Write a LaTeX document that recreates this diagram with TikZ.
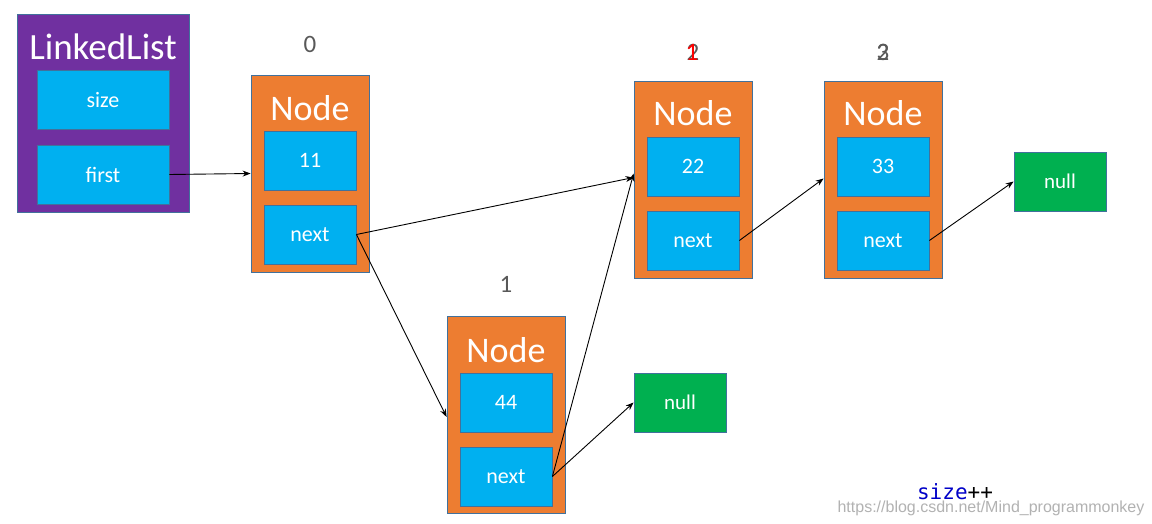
\documentclass[tikz,border=0pt]{standalone}
\usepackage{fontspec}
\setmainfont{Carlito}
\newfontfamily\monof{DejaVu Sans Mono}
\newfontfamily\urlf{Liberation Sans}
\usetikzlibrary{arrows.meta}
\definecolor{bord}{HTML}{41719C}
\definecolor{oran}{HTML}{ED7D31}
\definecolor{cyanb}{HTML}{00B0F0}
\definecolor{purp}{HTML}{7030A0}
\definecolor{grn}{HTML}{00B050}
\definecolor{lbl}{HTML}{595959}
\definecolor{szb}{HTML}{0000C8}
\tikzset{
  outerbox/.style={draw=bord, line width=0.8pt, fill=oran, minimum width=118pt, minimum height=197pt, inner sep=0pt},
  listbox/.style={draw=bord, line width=0.8pt, fill=purp, minimum width=172pt, minimum height=198pt, inner sep=0pt},
  fieldbox/.style={draw=bord, line width=0.8pt, fill=cyanb, minimum width=92pt, minimum height=59pt, inner sep=0pt, text=white, font=\fontsize{22}{26}\selectfont},
  bigfield/.style={fieldbox, minimum width=132pt},
  nullbox/.style={draw=bord, line width=0.8pt, fill=grn, minimum width=92pt, minimum height=59pt, inner sep=0pt, text=white, font=\fontsize{21}{25}\selectfont},
  titletext/.style={text=white, inner sep=0pt, font=\fontsize{36}{42}\selectfont},
  idxlabel/.style={text=lbl, inner sep=0pt, font=\fontsize{25}{29}\selectfont},
  link/.style={-{Stealth[length=8pt,width=6pt]}, line width=0.9pt, black}
}
\begin{document}
\begin{tikzpicture}[x=1pt,y=-1pt]
\useasboundingbox (0,0) rectangle (1152,524);
\fill[white] (0,0) rectangle (1152,524);

% LinkedList
\node[listbox] (ll) at (103,113) {};
\node[titletext, font=\fontsize{37}{43}\selectfont] (lltitle) at (103,47) {LinkedList};
\node[bigfield] (size) at (103,100) {size};
\node[bigfield] (first) at (103,174.5) {first};

% Node 0
\node[idxlabel] (l0) at (310,44) {0};
\node[outerbox] (n0) at (310,173.5) {};
\node[titletext] (t0) at (310,108) {Node};
\node[fieldbox] (v0) at (310,160.5) {11};
\node[fieldbox] (x0) at (310,234.5) {next};

% Node 1
\node[idxlabel] (l1) at (506,284) {1};
\node[outerbox] (n1) at (506,415) {};
\node[titletext] (t1) at (506,350) {Node};
\node[fieldbox] (v1) at (506,402.5) {44};
\node[fieldbox] (x1) at (506,476.5) {next};

% Node 2
\node[idxlabel] (l2a) at (693,52) {2};
\node[idxlabel, text=red] (l2b) at (692,52) {1};
\node[outerbox] (n2) at (693,179.5) {};
\node[titletext] (t2) at (693,113) {Node};
\node[fieldbox] (v2) at (693,166.5) {22};
\node[fieldbox] (x2) at (693,240.5) {next};

% Node 3
\node[idxlabel] (l3a) at (883,52) {3};
\node[idxlabel] (l3b) at (883,52) {2};
\node[outerbox] (n3) at (883,179.5) {};
\node[titletext] (t3) at (883,113) {Node};
\node[fieldbox] (v3) at (883,166.5) {33};
\node[fieldbox] (x3) at (883,240.5) {next};

% nulls
\node[nullbox] (null1) at (1060,181.5) {null};
\node[nullbox] (null2) at (680,402.5) {null};

% links
\draw[link] (first.east) -- (n0.west);
\draw[link] (x0.east) -- ([yshift=2pt]n2.west);
\draw[link] (x0.east) -- ([yshift=-2pt]n1.west);
\draw[link] (x1.east) -- ([yshift=6pt]n2.west);
\draw[link] (x1.east) -- (null2.west);
\draw[link] (x2.east) -- ([yshift=1pt]n3.west);
\draw[link] (x3.east) -- (null1.west);

% size++
\node[inner sep=0pt, font=\monof\fontsize{21}{24}\selectfont] (sz) at (955,492) {\textcolor{szb}{size}++};
\node[inner sep=0pt, text=black!30, font=\urlf\fontsize{16}{18}\selectfont] (url) at (991,508) {https://blog.csdn.net/Mind\_programmonkey};
\end{tikzpicture}
\end{document}
